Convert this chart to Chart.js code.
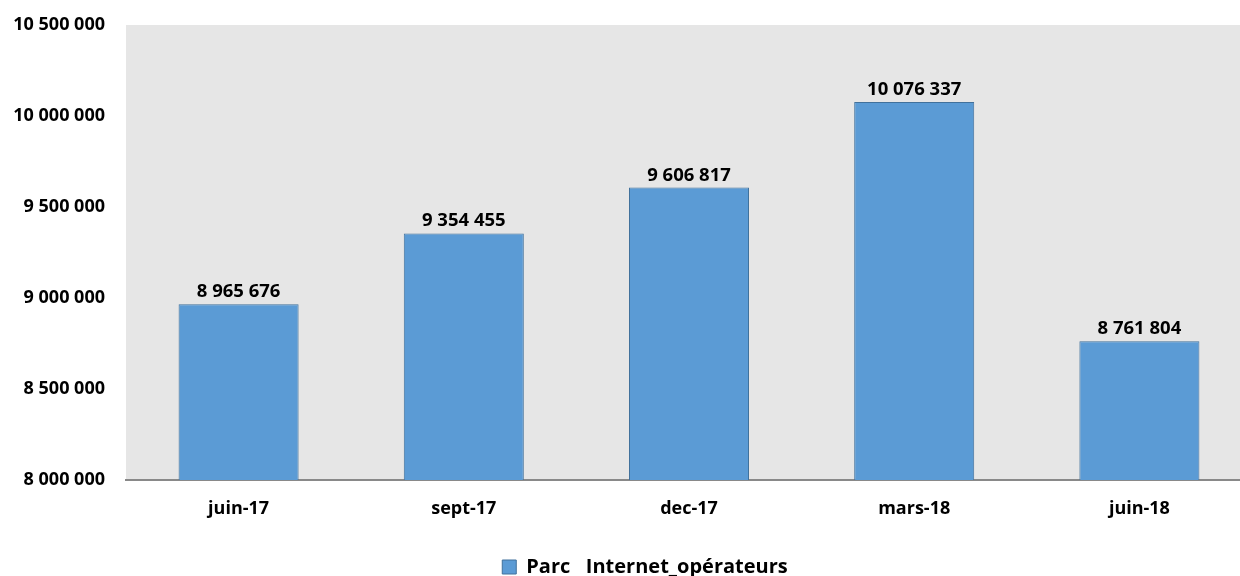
<!DOCTYPE html>
<html>
<head>
<meta charset="utf-8">
<script src="https://cdn.jsdelivr.net/npm/chart.js@4/dist/chart.umd.min.js"></script>
<style>
  html, body { margin: 0; padding: 0; background: #ffffff; overflow: hidden; }
  #wrap { width: 1240px; height: 576px; position: relative; overflow: hidden; }
  canvas { display: block; }
</style>
</head>
<body>
<div id="wrap"><canvas id="c" width="1290" height="576"></canvas></div>
<script>
const categories = ["juin-17", "sept-17", "dec-17", "mars-18", "juin-18"];
const seriesName = "Parc   Internet_opérateurs";
const values = [8965676, 9354455, 9606817, 10076337, 8761804];
const yMin = 8000000;
const yMax = 10500000;
const yStep = 500000;

function fmt(n) {
  return String(Math.round(n)).replace(/\B(?=(\d{3})+(?!\d))/g, " ");
}

const FONT = "'Open Sans', 'Noto Sans', sans-serif";

const plotBg = {
  id: "plotBg",
  beforeDraw(chart) {
    const { ctx, chartArea: a } = chart;
    ctx.save();
    ctx.fillStyle = "#e6e6e6";
    ctx.fillRect(a.left, a.top, a.right - a.left, a.bottom - a.top);
    ctx.restore();
  }
};

const legendShift = {
  id: "legendShift",
  afterLayout(chart) {
    if (chart.legend) {
      chart.legend.left += 19;
      chart.legend.right += 19;
    }
  }
};

const valueLabels = {
  id: "valueLabels",
  afterDatasetsDraw(chart) {
    const { ctx } = chart;
    const meta = chart.getDatasetMeta(0);
    ctx.save();
    ctx.font = "bold 18.5px " + FONT;
    ctx.fillStyle = "#000000";
    ctx.textAlign = "center";
    ctx.textBaseline = "alphabetic";
    meta.data.forEach((bar, i) => {
      ctx.fillText(fmt(chart.data.datasets[0].data[i]), bar.x, bar.y - 7);
    });
    ctx.restore();
  }
};

new Chart(document.getElementById("c"), {
  type: "bar",
  data: {
    labels: categories,
    datasets: [{
      label: seriesName,
      data: values,
      backgroundColor: "#5b9bd5",
      borderColor: "#41719c",
      borderWidth: 1,
      barPercentage: 0.533,
      categoryPercentage: 1.0
    }]
  },
  options: {
    responsive: false,
    animation: false,
    devicePixelRatio: 1,
    layout: { padding: { top: 25, right: 38, bottom: -11, left: 0 } },
    plugins: {
      legend: {
        display: true,
        position: "bottom",
        labels: {
          font: { family: FONT, size: 20, weight: "bold" },
          color: "#000000",
          boxWidth: 14,
          boxHeight: 14,
          padding: 0
        }
      },
      tooltip: { enabled: false }
    },
    scales: {
      x: {
        grid: { display: false, drawTicks: false },
        border: { display: true, color: "#898989", width: 2 },
        ticks: {
          font: { family: FONT, size: 18, weight: "bold" },
          color: "#000000",
          padding: 18,
          maxRotation: 0
        },
        afterFit(scale) { scale.height = 77; }
      },
      y: {
        min: yMin,
        max: yMax,
        grid: { display: false, drawTicks: false },
        border: { display: false },
        ticks: {
          stepSize: yStep,
          font: { family: FONT, size: 18, weight: "bold" },
          color: "#000000",
          padding: 21,
          callback: (v) => fmt(v)
        },
        afterFit(scale) {
          scale.width = 126;
          scale.paddingTop = 0;
          scale.paddingBottom = 0;
        }
      }
    }
  },
  plugins: [plotBg, legendShift, valueLabels]
});
</script>
</body>
</html>
